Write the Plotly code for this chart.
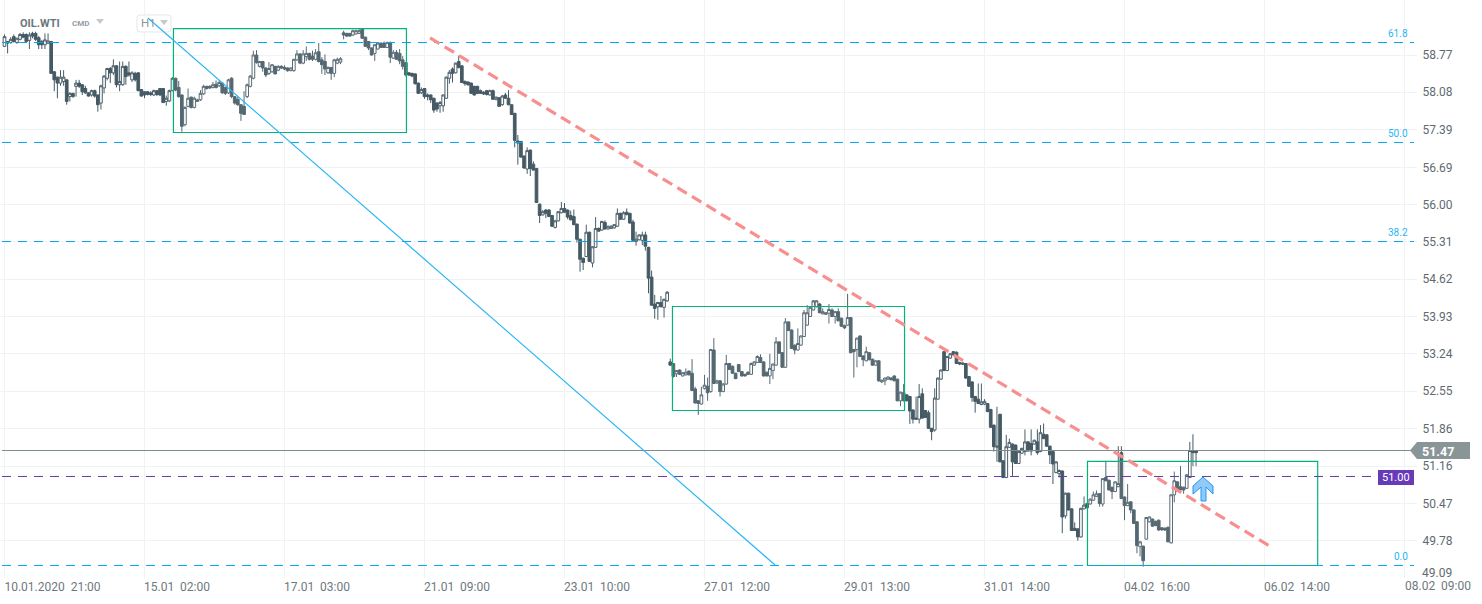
import plotly.graph_objects as go

# ---------- data ----------
opens = [
58.93,59.02,59.00,59.11,59.00,59.06,59.15,59.15,59.04,59.17,
59.17,59.09,59.02,58.96,58.99,59.02,58.46,58.36,58.25,58.28,
58.31,58.00,58.06,58.19,58.25,58.22,58.15,58.07,58.03,58.11,
58.03,57.88,58.16,58.34,58.52,58.44,58.57,58.22,58.22,58.56,
58.44,58.31,58.43,58.44,58.13,58.09,58.09,58.07,58.03,58.11,
58.15,58.15,57.91,57.92,58.11,58.34,58.17,58.03,57.48,57.82,
57.99,57.80,57.91,57.94,58.05,58.19,58.19,58.17,58.23,58.20,
58.25,58.17,58.07,58.34,58.00,57.95,57.85,57.82,58.00,58.19,
58.34,58.77,58.56,58.65,58.53,58.43,58.46,58.56,58.49,58.56,
58.54,58.53,58.48,58.48,58.68,58.79,58.62,58.74,58.80,58.75,
58.69,58.83,58.68,58.65,58.44,58.54,58.43,58.62,58.64,
59.18,59.17,59.17,59.14,59.16,59.17,59.25,59.10,59.02,58.90,
58.80,58.88,58.99,58.99,58.91,59.00,58.71,58.82,58.80,58.68,
58.63,58.44,58.43,58.42,58.25,58.07,58.15,58.03,58.03,57.97,57.88,
57.83,57.83,57.97,58.34,58.51,58.44,58.65,58.57,58.28,58.27,
58.25,58.19,58.19,58.11,58.08,58.11,58.03,58.11,57.95,57.98,
57.85,58.03,57.97,57.85,57.69,57.18,57.17,56.90,56.66,57.01,
56.75,56.67,56.01,55.81,55.90,55.90,55.80,55.58,55.70,55.85,
55.93,55.90,55.80,55.78,55.64,55.36,55.01,55.04,55.49,54.92,
55.21,55.56,55.53,55.67,55.55,55.56,55.57,55.60,55.84,55.73,
55.86,55.84,55.68,55.32,55.35,55.34,55.44,55.21,54.66,54.16,
54.11,54.19,54.10,54.22,
53.09,53.06,52.87,52.94,52.83,52.85,52.92,52.88,52.59,52.37,
52.31,52.60,52.64,52.54,53.31,52.70,52.74,52.54,52.68,53.06,
53.01,52.88,53.04,52.91,52.86,52.90,52.86,53.03,53.08,53.17,
53.09,52.90,52.83,52.93,53.03,53.46,53.26,52.99,53.83,53.68,
53.40,53.31,53.40,53.56,53.77,53.93,54.05,54.11,54.16,53.98,
53.97,53.99,54.05,53.93,54.02,53.90,53.76,53.77,53.91,53.32,
53.32,53.57,53.20,53.11,53.26,53.14,53.03,53.11,52.72,52.74,
52.77,52.79,52.83,52.77,52.37,52.52,52.48,52.45,52.20,52.05,
52.03,52.50,52.19,52.15,51.86,
51.83,52.40,52.77,53.28,52.93,53.16,53.28,53.27,53.08,53.07,53.06,
52.82,52.72,52.45,52.40,52.30,52.31,52.32,52.21,51.92,51.51,52.12,
51.26,50.95,51.51,51.57,51.55,51.21,51.40,51.43,51.61,51.58,
51.57,51.61,51.43,51.75,51.74,51.53,51.43,51.04,51.02,51.07,50.24,
50.66,50.37,50.01,50.00,49.85,50.37,50.47,50.46,50.53,50.60,
50.65,50.46,50.95,50.90,50.77,50.69,50.78,51.41,50.59,50.43,
50.50,50.35,50.13,49.67,49.68,49.81,50.13,50.18,50.14,50.16,
50.02,50.01,50.03,49.74,50.63,50.87,50.78,50.77,50.75,50.95,51.45,
51.44,
]
highs = [
59.15,59.03,59.10,59.15,59.09,59.18,59.19,59.17,59.19,59.20,
59.20,59.12,59.05,59.17,59.17,59.03,58.47,58.37,58.49,58.49,
58.32,58.08,58.07,58.31,58.31,58.23,58.20,58.08,58.13,58.13,
58.04,58.22,58.40,58.53,58.55,58.69,58.58,58.65,58.65,58.58,
58.65,58.47,58.46,58.45,58.14,58.10,58.10,58.10,58.13,58.12,
58.16,58.16,58.02,58.13,58.36,58.35,58.29,58.04,57.82,58.15,
58.00,58.00,57.96,58.12,58.22,58.20,58.21,58.27,58.30,58.30,
58.26,58.18,58.33,58.36,58.01,58.00,57.86,58.10,58.24,58.40,
58.85,58.86,58.66,58.66,58.54,58.64,58.60,58.57,58.58,58.58,
58.58,58.54,58.54,58.70,58.86,58.80,58.86,58.93,58.81,58.85,
58.88,58.99,58.73,58.78,58.56,58.55,58.70,58.72,58.73,
59.22,59.18,59.18,59.24,59.24,59.25,59.26,59.11,59.03,58.91,
58.97,59.00,59.00,59.02,59.02,59.02,58.86,58.86,58.88,58.75,
58.64,58.45,58.44,58.43,58.26,58.17,58.16,58.06,58.04,57.98,57.90,
57.92,58.04,58.37,58.49,58.54,58.63,58.76,58.58,58.30,58.28,
58.26,58.20,58.20,58.13,58.10,58.12,58.13,58.13,58.00,57.99,
58.03,58.07,58.12,57.86,57.70,57.29,57.18,56.91,57.06,57.02,
56.80,56.68,56.02,55.90,55.92,55.92,55.81,55.72,55.88,56.05,
56.03,55.91,55.89,55.91,55.65,55.37,55.02,55.63,55.50,55.23,
55.77,55.58,55.70,55.71,55.61,55.62,55.64,55.93,55.85,55.88,
55.93,55.85,55.72,55.50,55.45,55.50,55.50,55.22,54.78,54.33,
54.20,54.31,54.26,54.40,
53.15,53.07,52.94,52.95,52.90,52.97,52.93,53.14,52.63,52.38,
52.63,52.85,52.80,53.33,53.53,52.76,52.75,52.70,53.22,53.07,
53.02,52.89,53.05,52.92,52.87,52.91,53.08,53.10,53.21,53.23,
53.10,52.91,53.24,53.06,53.55,53.47,53.27,53.90,53.84,53.69,
53.41,53.71,53.58,54.05,54.14,54.11,54.23,54.23,54.18,54.08,
54.01,54.16,54.08,54.03,54.08,53.91,53.78,54.35,53.92,53.33,
53.54,53.58,53.21,53.37,53.27,53.15,53.12,53.12,52.76,52.80,
52.82,52.81,52.84,52.78,52.54,52.68,52.49,52.46,52.21,52.45,
52.68,52.60,52.20,52.19,51.87,
52.60,52.80,52.95,53.29,53.20,53.25,53.29,53.28,53.09,53.08,53.07,
52.83,52.73,52.46,52.69,52.69,52.40,52.33,52.22,51.93,52.26,52.13,
51.27,51.74,51.67,51.58,51.56,51.44,51.50,51.84,51.62,51.84,
51.65,51.84,51.92,51.95,51.75,51.54,51.44,51.25,51.10,51.08,50.67,
50.67,50.38,50.12,50.01,50.39,50.60,50.48,50.56,50.69,50.71,
50.66,50.94,51.26,50.91,50.78,50.88,51.53,51.53,50.60,50.83,
50.51,50.36,50.14,49.77,49.69,50.22,50.23,50.19,50.15,50.17,
50.03,50.03,50.04,50.64,51.06,50.88,51.16,50.78,51.01,51.61,51.75,
51.45,
]
lows = [
58.92,58.80,58.98,59.00,58.98,59.04,59.08,59.00,58.88,59.08,
59.03,58.88,58.88,58.88,58.97,58.42,58.10,57.97,58.20,58.20,
57.85,57.91,57.98,58.00,58.16,58.03,58.05,58.00,58.00,57.98,
57.72,57.76,58.06,58.30,58.25,58.40,58.17,58.10,58.20,58.22,
58.37,58.27,58.28,58.10,58.00,57.97,58.02,58.01,58.01,58.01,
58.01,57.88,57.83,57.90,58.10,58.10,57.98,57.35,57.45,57.80,
57.78,57.78,57.90,57.92,58.03,58.13,58.14,58.15,58.15,58.18,
58.05,58.03,58.05,57.97,57.85,57.83,57.55,57.66,57.97,58.17,
58.32,58.61,58.54,58.46,58.36,58.40,58.44,58.41,58.47,58.51,
58.49,58.46,58.47,58.46,58.66,58.60,58.60,58.66,58.67,58.66,
58.67,58.63,58.42,58.40,58.42,58.31,58.36,58.60,58.60,
59.06,59.10,59.11,59.12,59.15,59.16,59.07,58.92,58.86,58.76,
58.66,58.87,58.90,58.90,58.90,58.62,58.70,58.68,58.60,58.50,
58.37,58.38,58.36,58.22,58.05,58.05,57.96,57.93,57.88,57.70,57.72,
57.70,57.72,57.96,58.24,58.26,58.43,58.52,58.25,58.20,58.20,
58.05,58.02,58.05,58.05,58.03,58.02,58.02,57.94,57.93,57.81,
57.83,57.96,57.84,57.66,57.06,56.74,56.87,56.66,56.57,56.53,
56.63,56.03,55.66,55.80,55.75,55.77,55.59,55.56,55.69,55.84,
55.85,55.73,55.71,55.62,55.30,54.76,54.79,55.03,54.94,54.84,
55.20,55.50,55.52,55.54,55.54,55.55,55.56,55.59,55.72,55.72,
55.80,55.65,55.33,55.24,55.34,55.25,55.15,54.36,54.13,53.89,
53.87,54.10,53.91,54.20,
53.02,52.80,52.81,52.85,52.82,52.84,52.84,52.55,52.32,52.11,
52.30,52.58,52.37,52.52,52.68,52.68,52.45,52.53,52.67,52.94,
52.87,52.77,52.90,52.82,52.82,52.85,52.85,53.02,53.07,53.07,
52.82,52.82,52.68,52.77,53.02,53.24,52.98,52.98,53.66,53.33,
53.23,53.30,53.39,53.55,53.76,53.92,54.04,54.10,53.99,53.97,
53.96,53.80,53.92,53.80,53.84,53.74,53.70,53.76,53.25,52.80,
52.99,53.18,53.01,53.10,53.12,53.02,53.02,52.72,52.70,52.66,
52.76,52.75,52.73,52.36,52.27,52.36,52.36,51.94,51.95,52.02,
51.95,52.04,52.05,51.85,51.64,
51.80,52.39,52.76,52.92,52.92,53.15,53.21,53.05,53.03,53.03,52.78,
52.63,52.35,52.15,52.31,52.29,52.29,52.16,51.87,51.43,51.24,51.23,
50.94,50.94,51.50,50.98,51.20,51.20,51.39,51.36,51.43,51.36,
51.56,51.37,51.42,51.66,51.52,51.20,50.83,51.03,50.95,49.92,50.19,
50.34,49.96,49.96,49.78,49.84,50.36,50.38,50.45,50.52,50.59,
50.41,50.41,50.88,50.71,50.55,50.68,50.77,50.55,50.16,50.42,
50.29,50.09,49.55,49.49,49.30,49.80,50.12,50.04,50.05,49.96,
49.97,49.96,49.75,49.73,50.49,50.69,50.71,50.65,50.74,50.94,51.16,
51.16,
]
closes = [
59.11,58.99,59.06,59.02,59.08,59.15,59.10,59.02,59.14,59.12,
59.06,58.96,58.96,59.05,59.03,58.43,58.31,58.25,58.36,58.36,
57.91,58.06,58.00,58.25,58.19,58.09,58.07,58.01,58.11,58.01,
57.85,58.20,58.38,58.52,58.44,58.57,58.22,58.28,58.56,58.37,
58.40,58.44,58.31,58.11,58.01,58.03,58.04,58.04,58.11,58.04,
58.03,57.89,57.97,58.11,58.34,58.12,58.00,57.45,57.80,57.97,
57.80,57.97,57.94,58.06,58.19,58.15,58.16,58.22,58.17,58.26,
58.07,58.06,58.31,58.00,57.88,57.85,57.69,57.67,58.22,58.38,
58.77,58.63,58.65,58.53,58.40,58.52,58.59,58.42,58.56,58.53,
58.51,58.48,58.53,58.69,58.79,58.62,58.79,58.80,58.69,58.69,
58.81,58.65,58.59,58.51,58.54,58.43,58.68,58.69,58.70,
59.14,59.12,59.12,59.22,59.22,59.22,59.08,58.93,58.90,58.77,
58.96,58.99,58.91,58.91,59.00,58.73,58.82,58.69,58.66,58.56,
58.40,58.40,58.38,58.24,58.06,58.13,58.00,58.00,57.94,57.75,57.77,
57.89,58.03,58.36,58.45,58.43,58.62,58.54,58.26,58.24,58.22,
58.06,58.03,58.06,58.06,58.05,58.04,58.11,57.95,57.99,57.82,
58.01,57.97,57.85,57.67,57.19,57.14,56.88,56.68,57.00,56.67,
56.64,56.04,55.80,55.87,55.84,55.78,55.60,55.70,55.87,55.93,
55.86,55.77,55.72,55.63,55.36,54.99,54.93,55.49,54.95,55.22,
55.56,55.51,55.69,55.55,55.60,55.60,55.63,55.84,55.73,55.85,
55.82,55.66,55.34,55.36,55.44,55.44,55.23,54.64,54.14,54.08,
54.19,54.11,54.25,54.38,
53.03,52.82,52.93,52.86,52.89,52.90,52.85,52.56,52.33,52.32,
52.48,52.66,52.52,53.32,52.69,52.74,52.54,52.68,53.06,52.95,
52.88,52.78,52.91,52.83,52.83,52.86,53.06,53.09,53.19,53.08,
52.83,52.83,52.97,53.05,53.46,53.25,52.99,53.83,53.67,53.34,
53.31,53.43,53.57,54.00,54.00,54.10,54.22,54.22,54.00,54.02,
54.00,54.06,53.93,54.02,53.85,53.75,53.72,53.91,53.26,53.28,
53.53,53.19,53.13,53.28,53.13,53.03,53.11,52.74,52.75,52.79,
52.81,52.76,52.74,52.37,52.53,52.37,52.37,52.18,52.03,52.03,
52.45,52.05,52.06,51.86,51.80,
52.42,52.79,52.94,52.93,53.19,53.24,53.22,53.06,53.05,53.05,52.79,
52.64,52.43,52.36,52.32,52.35,52.36,52.17,51.88,51.52,51.53,51.24,
50.95,51.52,51.60,51.24,51.21,51.43,51.49,51.61,51.44,51.44,
51.64,51.41,51.78,51.67,51.53,51.37,51.20,51.24,51.08,50.22,50.66,
50.35,49.97,49.97,49.85,50.38,50.44,50.39,50.55,50.63,50.65,
50.47,50.93,50.89,50.72,50.69,50.87,50.84,50.56,50.43,50.49,
50.35,50.10,49.69,49.76,49.41,50.21,50.22,50.05,50.06,49.98,
49.98,49.98,49.76,50.63,50.89,50.70,50.72,50.72,51.00,51.45,51.41,
51.41,
]
# opens/highs/lows/closes hold one value per hourly bar
price_ticks = [58.77,58.08,57.39,56.69,56.00,55.31,54.62,53.93,53.24,52.55,51.86,51.16,50.47,49.78,49.09]
time_labels = ["10.01.2020\u00a0 21:00","15.01\u00a0 02:00","17.01\u00a0 03:00","21.01\u00a0 09:00","23.01\u00a0 10:00",
               "27.01\u00a0 12:00","29.01\u00a0 13:00","31.01\u00a0 14:00","04.02\u00a0 16:00","06.02\u00a0 14:00","08.02\u00a0 09:00"]
fib_levels = [59.001,57.151,55.318,49.322]
fib_names = ["61.8","50.0","38.2","0.0"]
level_line = 50.969
last_line = 51.450
boxes = [(54.3,129.2,59.260,57.336),(214.7,289.3,54.115,52.190),(348.1,422.1,51.247,49.322)]
trend_red = [(136.8,59.085),(407.7,49.645)]
trend_blue = [(46.1,59.455),(247.7,49.33)]

# ---------- frame geometry ----------
W, H = 1482, 604
PL_R, PL_B = 1417, 578          # plot area right / bottom in the page
BAR = 140/45                    # bar pitch
X0 = 4.5                        # centre of the first bar
Y_PER = 54.03
Y_TOP = 59.788
bx = lambda px: (px - X0)/BAR
px_x = lambda px: px/PL_R
px_y = lambda py: 1 - py/PL_B

bars = list(range(len(closes)))
grid_idx = [45*k for k in range(11)]
half = [48] + [32.5]*9
tick_idx = [g + h/BAR for g, h in zip(grid_idx, half)]

fig = go.Figure(go.Candlestick(
    x=bars, open=opens, high=highs, low=lows, close=closes,
    whiskerwidth=0,
    increasing=dict(line=dict(color="#4b5e69", width=1), fillcolor="#ffffff"),
    decreasing=dict(line=dict(color="#455a64", width=1), fillcolor="#455a64"),
    showlegend=False, hoverinfo="skip",
))

BLUE = "#03a9f4"
shapes = []
def round_rect(l, t, r, b, k):
    pts = (f"M {px_x(l+k):.5f},{px_y(t):.5f} L {px_x(r-k):.5f},{px_y(t):.5f} "
           f"Q {px_x(r):.5f},{px_y(t):.5f} {px_x(r):.5f},{px_y(t+k):.5f} L {px_x(r):.5f},{px_y(b-k):.5f} "
           f"Q {px_x(r):.5f},{px_y(b):.5f} {px_x(r-k):.5f},{px_y(b):.5f} L {px_x(l+k):.5f},{px_y(b):.5f} "
           f"Q {px_x(l):.5f},{px_y(b):.5f} {px_x(l):.5f},{px_y(b-k):.5f} L {px_x(l):.5f},{px_y(t+k):.5f} "
           f"Q {px_x(l):.5f},{px_y(t):.5f} {px_x(l+k):.5f},{px_y(t):.5f} Z")
    return dict(type="path", xref="paper", yref="paper", path=pts, fillcolor="#ffffff",
                line=dict(color="#e4e7e8", width=1))
shapes.append(round_rect(137, 15, 171, 32, 3))
# green boxes, slightly veiling the candles
for x0, x1, y1, y0 in boxes:
    shapes.append(dict(type="rect", xref="x", yref="y", x0=x0, x1=x1, y0=y0, y1=y1,
                       line=dict(color="#00b57a", width=1.2), fillcolor="rgba(255,255,255,0.09)"))
for lv in fib_levels:
    shapes.append(dict(type="line", xref="x", yref="y", x0=bx(2), x1=bx(1414), y0=lv, y1=lv,
                       line=dict(color=BLUE, width=1, dash="9px,7px")))
shapes.append(dict(type="line", xref="x", yref="y", x0=bx(2), x1=bx(1378), y0=level_line, y1=level_line,
                   line=dict(color="#673ab7", width=1, dash="9px,7px")))
shapes.append(dict(type="line", xref="x", yref="y", x0=bx(2), x1=bx(1411), y0=last_line, y1=last_line,
                   line=dict(color="#7f8c8d", width=1)))
shapes.append(dict(type="line", xref="x", yref="y", x0=trend_blue[0][0], y0=trend_blue[0][1],
                   x1=trend_blue[1][0], y1=trend_blue[1][1], line=dict(color="#29b6f6", width=1.2)))
shapes.append(dict(type="line", xref="x", yref="y", x0=trend_red[0][0], y0=trend_red[0][1],
                   x1=trend_red[1][0], y1=trend_red[1][1], line=dict(color="#f88e8e", width=3.2, dash="11px,6px")))

def poly(points, fill, line=None, lw=0):
    d = "M " + " L ".join(f"{px_x(a):.5f},{px_y(b):.5f}" for a, b in points) + " Z"
    return dict(type="path", xref="paper", yref="paper", path=d, fillcolor=fill,
                line=dict(color=line or fill, width=lw))

# last-price and level tags
shapes.append(poly([(1410,450.5),(1417,442),(1470,442),(1470,459),(1417,459)], "#8a9597"))
shapes.append(poly([(1378,470),(1414,470),(1414,485),(1378,485)], "#673ab7"))
# signal arrow
shapes.append(poly([(1203,477),(1213,486),(1213,494),(1206,487),(1206,501),(1201,501),(1201,487),(1193,494),(1193,486)],
                   "#90caf9", "#2196f3", 1))
# header widgets
shapes.append(poly([(96,19),(104,19),(100,24)], "#c4cacd"))
shapes.append(poly([(160,20),(168,20),(164,25)], "#c4cacd"))

ann = []
def text(s, px, py, size, color, anchor="left", bold=False):
    ann.append(dict(text=f"<b>{s}</b>" if bold else s, xref="paper", yref="paper", x=px_x(px), y=px_y(py),
                    xanchor=anchor, yanchor="middle", showarrow=False,
                    font=dict(family="Roboto", size=size, color=color)))
text("OIL.WTI", 18, 23, 11, "#69777d", bold=True)
text("CMD", 70, 24, 8, "#93a0a6", bold=True)
text("H1", 139, 23, 11.5, "#8b979c")
for name, lv in zip(fib_names, fib_levels):
    text(name, 1410, (Y_TOP - lv)*Y_PER - 9, 10, "#29b6f6", anchor="right")
text("51.47", 1420, 451, 12.5, "#ffffff", bold=True)
text("51.00", 1396, 477.5, 11, "#ffffff", anchor="center")
text("49.09", 1420, 573, 12, "#5f6a70")
text(time_labels[-1], 1403, 586, 12, "#6e797e")

fig.update_layout(
    width=W, height=H, margin=dict(l=0, r=W-PL_R, t=0, b=H-PL_B, pad=0),
    paper_bgcolor="#ffffff", plot_bgcolor="#ffffff", boxgap=0.14, boxgroupgap=0,
    font=dict(family="Roboto", size=12, color="#5f6a70"),
    shapes=shapes, annotations=ann, showlegend=False,
    xaxis=dict(range=[bx(0), bx(PL_R)], rangeslider=dict(visible=False), showgrid=False, zeroline=False,
               showline=False, tickmode="array", tickvals=tick_idx, ticktext=time_labels[:-1], ticks="",
               tickfont=dict(family="Roboto", size=12, color="#6e797e"),
               minor=dict(tickmode="array", tickvals=grid_idx, showgrid=True, gridcolor="#f1f2f3", gridwidth=1, ticks="")),
    yaxis=dict(range=[Y_TOP - PL_B/Y_PER, Y_TOP], side="right", showgrid=True, gridcolor="#f1f2f3", gridwidth=1,
               zeroline=False, showline=False, tickmode="array", tickvals=price_ticks,
               ticktext=[f"{p:.2f}" if p != 49.09 else " " for p in price_ticks],
               ticks="outside", ticklen=2, tickcolor="rgba(255,255,255,0)",
               tickfont=dict(family="Roboto", size=12, color="#5f6a70")),
)
fig.write_html("out.html", config=dict(displayModeBar=False, staticPlot=True),
               post_script="document.body.style.margin='0';document.body.style.overflow='hidden';")
